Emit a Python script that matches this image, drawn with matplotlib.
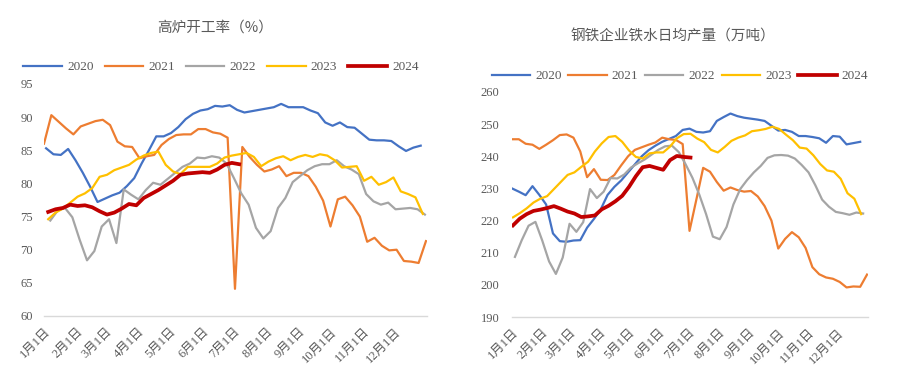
import numpy as np
import matplotlib.pyplot as plt

plt.rcParams['font.family'] = ['Liberation Serif', 'Noto Sans CJK SC', 'DejaVu Sans']

# 数据（周度，按年内天数定位）
years = ['2020', '2021', '2022', '2023', '2024']
colors = ['#4472C4', '#ED7D31', '#A5A5A5', '#FFC000', '#C00000']
widths = [1.6, 1.6, 1.6, 1.6, 2.7]

# 高炉开工率（%）
bf_start = [2, 0, 6, 4, 4]
bf_2020 = [85.3, 84.4, 84.3, 85.2, 83.5, 81.6, 79.5, 77.2, 77.7, 78.2, 78.6, 79.6, 80.8,
           83.0, 85.0, 87.1, 87.1, 87.6, 88.5, 89.7, 90.5, 91.0, 91.2, 91.7, 91.6, 91.8,
           91.1, 90.7, 90.9, 91.1, 91.3, 91.5, 92.0, 91.5, 91.5, 91.5, 91.0, 90.6, 89.2,
           88.7, 89.2, 88.5, 88.4, 87.5, 86.6, 86.5, 86.5, 86.4, 85.6, 84.9, 85.4, 85.7]
bf_2021 = [86.0, 90.3, 89.3, 88.3, 87.4, 88.6, 89.0, 89.4, 89.6, 88.8, 86.3, 85.6, 85.5,
           83.8, 84.1, 84.3, 85.8, 86.7, 87.3, 87.4, 87.4, 88.2, 88.2, 87.7, 87.5, 86.9,
           64.1, 85.5, 84.0, 82.8, 81.8, 82.1, 82.6, 81.1, 81.6, 81.6, 81.1, 79.5, 77.4,
           73.5, 77.6, 78.0, 76.7, 75.0, 71.2, 71.8, 70.6, 69.9, 70.0, 68.3, 68.2, 68.0, 71.3]
bf_2022 = [74.4, 75.9, 76.3, 74.9, 71.5, 68.4, 69.8, 73.5, 74.6, 71.0, 79.1, 78.3, 77.6,
           79.0, 80.1, 79.8, 80.7, 81.6, 82.5, 83.0, 83.9, 83.8, 84.1, 83.9, 83.0, 80.8,
           78.5, 76.8, 73.3, 71.7, 72.8, 76.3, 77.8, 80.2, 81.1, 82.0, 82.6, 82.9, 82.9,
           83.5, 82.6, 82.1, 81.4, 78.4, 77.3, 76.8, 77.1, 76.1, 76.2, 76.3, 76.1, 75.3]
bf_2023 = [74.6, 75.6, 76.2, 77.1, 78.0, 78.5, 79.3, 81.0, 81.3, 82.0, 82.4, 82.8, 83.6,
           84.2, 84.6, 84.8, 82.8, 81.8, 81.4, 82.5, 82.5, 82.5, 82.5, 83.0, 83.9, 84.2,
           84.4, 84.6, 84.0, 82.6, 83.3, 83.8, 84.1, 83.5, 84.0, 84.3, 84.0, 84.4, 84.2,
           83.5, 82.4, 82.5, 82.6, 80.4, 81.0, 79.8, 80.2, 80.9, 78.8, 78.4, 77.9, 75.4]
bf_2024 = [75.7, 76.1, 76.3, 76.8, 76.6, 76.7, 76.4, 75.8, 75.3, 75.6, 76.2, 76.9, 76.7,
           77.8, 78.4, 79.0, 79.7, 80.4, 81.3, 81.5, 81.6, 81.7, 81.6, 82.1, 82.8, 83.1, 82.9]

# 钢铁企业铁水日均产量（万吨）
hm_start = [0, 0, 3, 1, 1]
hm_2020 = [230.0, 229.0, 227.9, 230.7, 228.0, 225.0, 216.0, 213.6, 213.4, 213.8, 213.9, 217.8,
           220.5, 223.5, 228.0, 230.5, 232.5, 235.0, 237.5, 240.0, 241.9, 243.3, 244.5, 245.4,
           246.3, 248.2, 248.6, 247.6, 247.4, 247.8, 251.0, 252.2, 253.3, 252.5, 252.0, 251.7,
           251.4, 251.0, 249.5, 248.0, 248.2, 247.6, 246.3, 246.3, 246.0, 245.6, 244.2, 246.3,
           246.1, 243.7, 244.1, 244.5]
hm_2021 = [245.3, 245.3, 243.9, 243.6, 242.3, 243.6, 245.0, 246.6, 246.8, 245.8, 241.5, 233.5,
           236.0, 232.7, 232.6, 234.2, 237.2, 240.0, 242.0, 242.8, 243.6, 244.3, 245.8, 245.3,
           245.1, 243.8, 216.8, 226.5, 236.4, 235.2, 232.0, 229.3, 230.3, 229.5, 229.0, 229.2,
           227.5, 224.5, 220.0, 211.3, 214.3, 216.4, 214.8, 211.5, 205.5, 203.3, 202.3, 201.9,
           200.9, 199.2, 199.5, 199.4, 203.2]
hm_2022 = [208.7, 213.9, 218.4, 219.6, 213.8, 207.3, 203.4, 208.5, 219.0, 216.5, 219.5, 229.8,
           227.0, 229.0, 233.2, 233.1, 234.3, 236.5, 237.8, 239.0, 240.5, 242.0, 243.1, 243.3,
           241.3, 237.5, 233.3, 228.1, 222.0, 215.0, 214.2, 218.0, 225.0, 229.8, 232.6, 235.0,
           237.0, 239.5, 240.3, 240.4, 240.2, 239.3, 237.3, 235.0, 231.0, 226.5, 224.3, 222.7,
           222.3, 221.8, 222.5, 222.2]
hm_2023 = [221.0, 222.3, 223.8, 225.6, 226.8, 227.6, 229.8, 232.0, 234.2, 235.0, 236.7, 238.3,
           241.5, 244.0, 246.0, 246.3, 244.5, 241.8, 239.8, 239.3, 240.9, 241.2, 241.2, 243.0,
           245.6, 246.9, 247.0, 245.5, 244.4, 242.0, 241.2, 242.9, 244.8, 245.8, 246.5, 247.8,
           248.1, 248.5, 249.2, 248.5, 246.7, 245.0, 242.7, 242.4, 240.3, 237.6, 235.6, 235.2,
           233.0, 228.5, 226.8, 222.0]
hm_2024 = [218.5, 220.6, 222.0, 223.0, 223.4, 223.9, 224.5, 223.7, 222.8, 222.2, 221.1, 221.3,
           221.6, 223.5, 224.6, 226.0, 227.7, 230.5, 233.8, 236.6, 237.0, 236.4, 235.8, 238.8,
           240.1, 239.8, 239.6]

month_days = [0, 31, 59, 90, 120, 151, 181, 212, 243, 273, 304, 334]
month_labels = [f'{m}月1日' for m in range(1, 13)]

fig = plt.figure(figsize=(9.02, 3.75), dpi=100)
ax1 = fig.add_axes([44 / 902, 1 - 316 / 375, 383 / 902, 232 / 375])
ax2 = fig.add_axes([512 / 902, 1 - 317 / 375, 356 / 902, 225 / 375])

txt_color = '#595959'


def draw(ax, series, starts, ylim, yticks, pad):
    for vals, st, c, w, y in zip(series, starts, colors, widths, years):
        days = st + 7 * np.arange(len(vals))
        ax.plot(days, vals, color=c, lw=w, label=y, solid_joinstyle='round')
    ax.set_xlim(0, 365)
    ax.set_ylim(*ylim)
    ax.set_yticks(yticks)
    ax.set_xticks(month_days)
    ax.set_xticklabels(month_labels, rotation=45, ha='right', va='top',
                       rotation_mode='anchor')
    ax.tick_params(axis='both', length=0, labelsize=9, labelcolor=txt_color)
    ax.tick_params(axis='y', pad=pad)
    ax.tick_params(axis='x', pad=7)
    for s in ['top', 'right', 'left']:
        ax.spines[s].set_visible(False)
    ax.spines['bottom'].set_color('#D9D9D9')
    ax.spines['bottom'].set_linewidth(1.0)


draw(ax1, [bf_2020, bf_2021, bf_2022, bf_2023, bf_2024], bf_start,
     (60, 95), range(60, 96, 5), 8)
draw(ax2, [hm_2020, hm_2021, hm_2022, hm_2023, hm_2024], hm_start,
     (190, 260), range(190, 261, 10), 9)

for ax, cx, cy, cs in [(ax1, 0.462, 1.073, 0.85), (ax2, 0.472, 1.071, 0.5)]:
    leg = ax.legend(loc='center', bbox_to_anchor=(cx, cy), ncol=5, frameon=False,
                    handlelength=2.9, handletextpad=0.4, columnspacing=cs,
                    fontsize=9.5, borderaxespad=0)
    for t in leg.get_texts():
        t.set_color(txt_color)

fig.text(215 / 902, 1 - 28 / 375, '高炉开工率（%）', ha='center', va='center',
         fontsize=10.5, color=txt_color, family=['Noto Sans CJK SC', 'DejaVu Sans'])
fig.text(673 / 902, 1 - 37 / 375, '钢铁企业铁水日均产量（万吨）', ha='center', va='center',
         fontsize=10.5, color=txt_color, family=['Noto Sans CJK SC', 'DejaVu Sans'])

fig.savefig('out.png', dpi=100)
